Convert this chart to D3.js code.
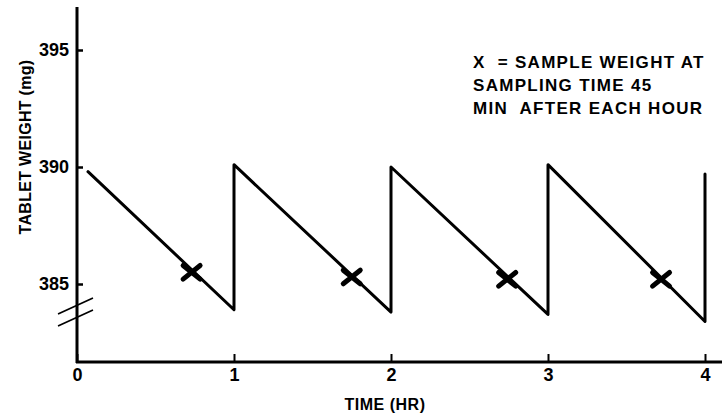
<!DOCTYPE html>
<html>
<head>
<meta charset="utf-8">
<script src="https://cdn.jsdelivr.net/npm/d3@7"></script>
<style>
  html, body { margin: 0; padding: 0; background: #fff; }
  text { font-family: "Liberation Sans", Arial, sans-serif; font-weight: bold; fill: #000; }
</style>
</head>
<body>
<script>
window.document.addEventListener('DOMContentLoaded', init, false);

var width = 725;
var height = 417;

// sawtooth: weight drifts down during each hour, reset at the top of the hour
var hours = [0.07, 1, 1, 2, 2, 3, 3, 4, 4];
var weights = [389.8, 383.9, 390.1, 383.8, 390.0, 383.7, 390.1, 383.4, 389.7];

// sample taken 45 min after each hour
var sampleHours = [0.73, 1.75, 2.74, 3.72];
var sampleWeights = [385.5, 385.3, 385.2, 385.2];

var xTicks = [0, 1, 2, 3, 4];
var yTicks = [385, 390, 395];

var noteLines = ['X  = SAMPLE WEIGHT AT', 'SAMPLING TIME 45', 'MIN  AFTER EACH HOUR'];

var xScale = d3.scaleLinear().domain([0, 4]).range([77, 705]);
var yScale = d3.scaleLinear().domain([385, 390]).range([284, 167]);

var svg;

function init() {
    svg = d3.select('body')
        .append('svg')
        .attr('width', width)
        .attr('height', height);

    drawAxes();
    drawSawtooth();
    drawSamples();
    drawNote();
}

function drawAxes() {
    var x0 = xScale(0);
    var yBottom = 362;

    var yAxis = d3.axisLeft(yScale)
        .tickValues(yTicks)
        .tickSizeInner(-6)
        .tickSizeOuter(0)
        .tickPadding(8)
        .tickFormat(d3.format('d'));

    var gy = svg.append('g')
        .attr('transform', `translate(${x0}, 0)`)
        .call(yAxis);
    gy.select('.domain').remove();
    gy.selectAll('line').attr('stroke', '#000').attr('stroke-width', 2.5);
    gy.selectAll('text').style('font-size', '18px').attr('font-family', null);

    var xAxis = d3.axisBottom(xScale)
        .tickValues(xTicks)
        .tickSizeInner(-8)
        .tickSizeOuter(0)
        .tickPadding(6)
        .tickFormat(d3.format('d'));

    var gx = svg.append('g')
        .attr('transform', `translate(0, ${yBottom})`)
        .call(xAxis);
    gx.select('.domain').remove();
    gx.selectAll('line').attr('stroke', '#000').attr('stroke-width', 2);
    gx.selectAll('text').style('font-size', '18px').attr('font-family', null);

    // axis lines
    svg.append('line')
        .attr('x1', x0).attr('x2', x0)
        .attr('y1', 7).attr('y2', yBottom + 1)
        .attr('stroke', '#000').attr('stroke-width', 3);
    svg.append('line')
        .attr('x1', x0 - 1).attr('x2', width - 3)
        .attr('y1', yBottom).attr('y2', yBottom)
        .attr('stroke', '#000').attr('stroke-width', 3);

    // axis break
    [306, 318].forEach(function(cy) {
        svg.append('line')
            .attr('x1', x0 - 19).attr('y1', cy + 8)
            .attr('x2', x0 + 16).attr('y2', cy - 8)
            .attr('stroke', '#000').attr('stroke-width', 1.6);
    });

    svg.append('text')
        .attr('x', 385).attr('y', 410)
        .attr('text-anchor', 'middle')
        .style('font-size', '16px')
        .style('letter-spacing', '0.5px')
        .text('TIME (HR)');

    svg.append('text')
        .attr('transform', 'translate(31, 147) rotate(-90)')
        .attr('text-anchor', 'middle')
        .style('font-size', '16px')
        .style('letter-spacing', '0.3px')
        .text('TABLET WEIGHT (mg)');
}

function drawSawtooth() {
    var line = d3.line()
        .x(function(d) { return xScale(d[0]); })
        .y(function(d) { return yScale(d[1]); });

    svg.append('path')
        .datum(d3.zip(hours, weights))
        .attr('d', line)
        .attr('fill', 'none')
        .attr('stroke', '#000')
        .attr('stroke-width', 3)
        .attr('stroke-linejoin', 'round')
        .attr('stroke-linecap', 'round');
}

function drawSamples() {
    var r = 8.5;
    var marks = svg.selectAll('.sample')
        .data(d3.zip(sampleHours, sampleWeights))
        .enter()
        .append('g')
        .attr('class', 'sample')
        .attr('transform', function(d) {
            return `translate(${xScale(d[0])}, ${yScale(d[1])})`;
        });

    marks.append('path')
        .attr('d', `M${-r},${-r * 0.8}L${r},${r * 0.8}M${-r},${r * 0.8}L${r},${-r * 0.8}`)
        .attr('stroke', '#000')
        .attr('stroke-width', 5)
        .attr('stroke-linecap', 'round');
}

function drawNote() {
    svg.append('g')
        .selectAll('text')
        .data(noteLines)
        .enter()
        .append('text')
        .attr('x', 473)
        .attr('y', function(d, i) { return 68 + i * 23; })
        .style('font-size', '17px')
        .style('letter-spacing', '1.3px')
        .style('white-space', 'pre')
        .text(function(d) { return d; });
}
</script>
</body>
</html>
